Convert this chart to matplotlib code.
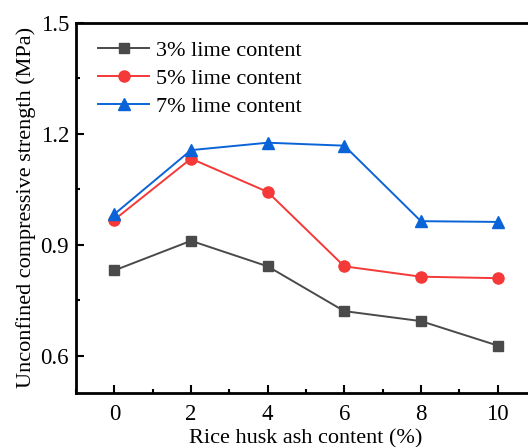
import matplotlib
matplotlib.use("Agg")
import matplotlib.pyplot as plt
from matplotlib.ticker import MultipleLocator

# Data
rha_content = [0, 2, 4, 6, 8, 10]
lime_3 = [0.831, 0.911, 0.842, 0.721, 0.694, 0.628]
lime_5 = [0.968, 1.133, 1.043, 0.842, 0.814, 0.810]
lime_7 = [0.983, 1.156, 1.176, 1.168, 0.964, 0.962]
labels = ["3% lime content", "5% lime content", "7% lime content"]

plt.rcParams["font.family"] = ["Liberation Serif", "DejaVu Serif"]

fig = plt.figure(figsize=(5.28, 4.47), dpi=100)
ax = fig.add_axes([0.144, 0.121, 0.871, 0.828])

ax.plot(rha_content, lime_3, color="#4a4a4a", marker="s", ms=7, lw=1.4, label=labels[0])
ax.plot(rha_content, lime_5, color="#f53838", marker="o", ms=8, lw=1.4, label=labels[1])
ax.plot(rha_content, lime_7, color="#0a64d8", marker="^", ms=8, lw=1.4, label=labels[2])

ax.set_xlim(-1, 11)
ax.set_ylim(0.5, 1.5)
ax.set_xticks(rha_content)
ax.set_yticks([0.6, 0.9, 1.2, 1.5])
ax.xaxis.set_minor_locator(MultipleLocator(1))
ax.yaxis.set_minor_locator(MultipleLocator(0.15))
ax.tick_params(which="both", direction="in", labelsize=16.5, width=1.5, top=False, right=False)
ax.tick_params(which="major", length=6, pad=5)
ax.tick_params(axis="x", which="major", pad=8)
ax.tick_params(which="minor", length=3)
for s in ax.spines.values():
    s.set_linewidth(2)

ax.set_xlabel("Rice husk ash content (%)", fontsize=16, labelpad=3)
ax.set_ylabel("Unconfined compressive strength (MPa)", fontsize=16, labelpad=3)

ax.legend(loc="upper left", bbox_to_anchor=(0.009, 1.0), frameon=False, fontsize=16,
          handlelength=2.3, borderaxespad=0.4, labelspacing=0.33, handletextpad=0.3)

fig.savefig("out.png", dpi=100)
